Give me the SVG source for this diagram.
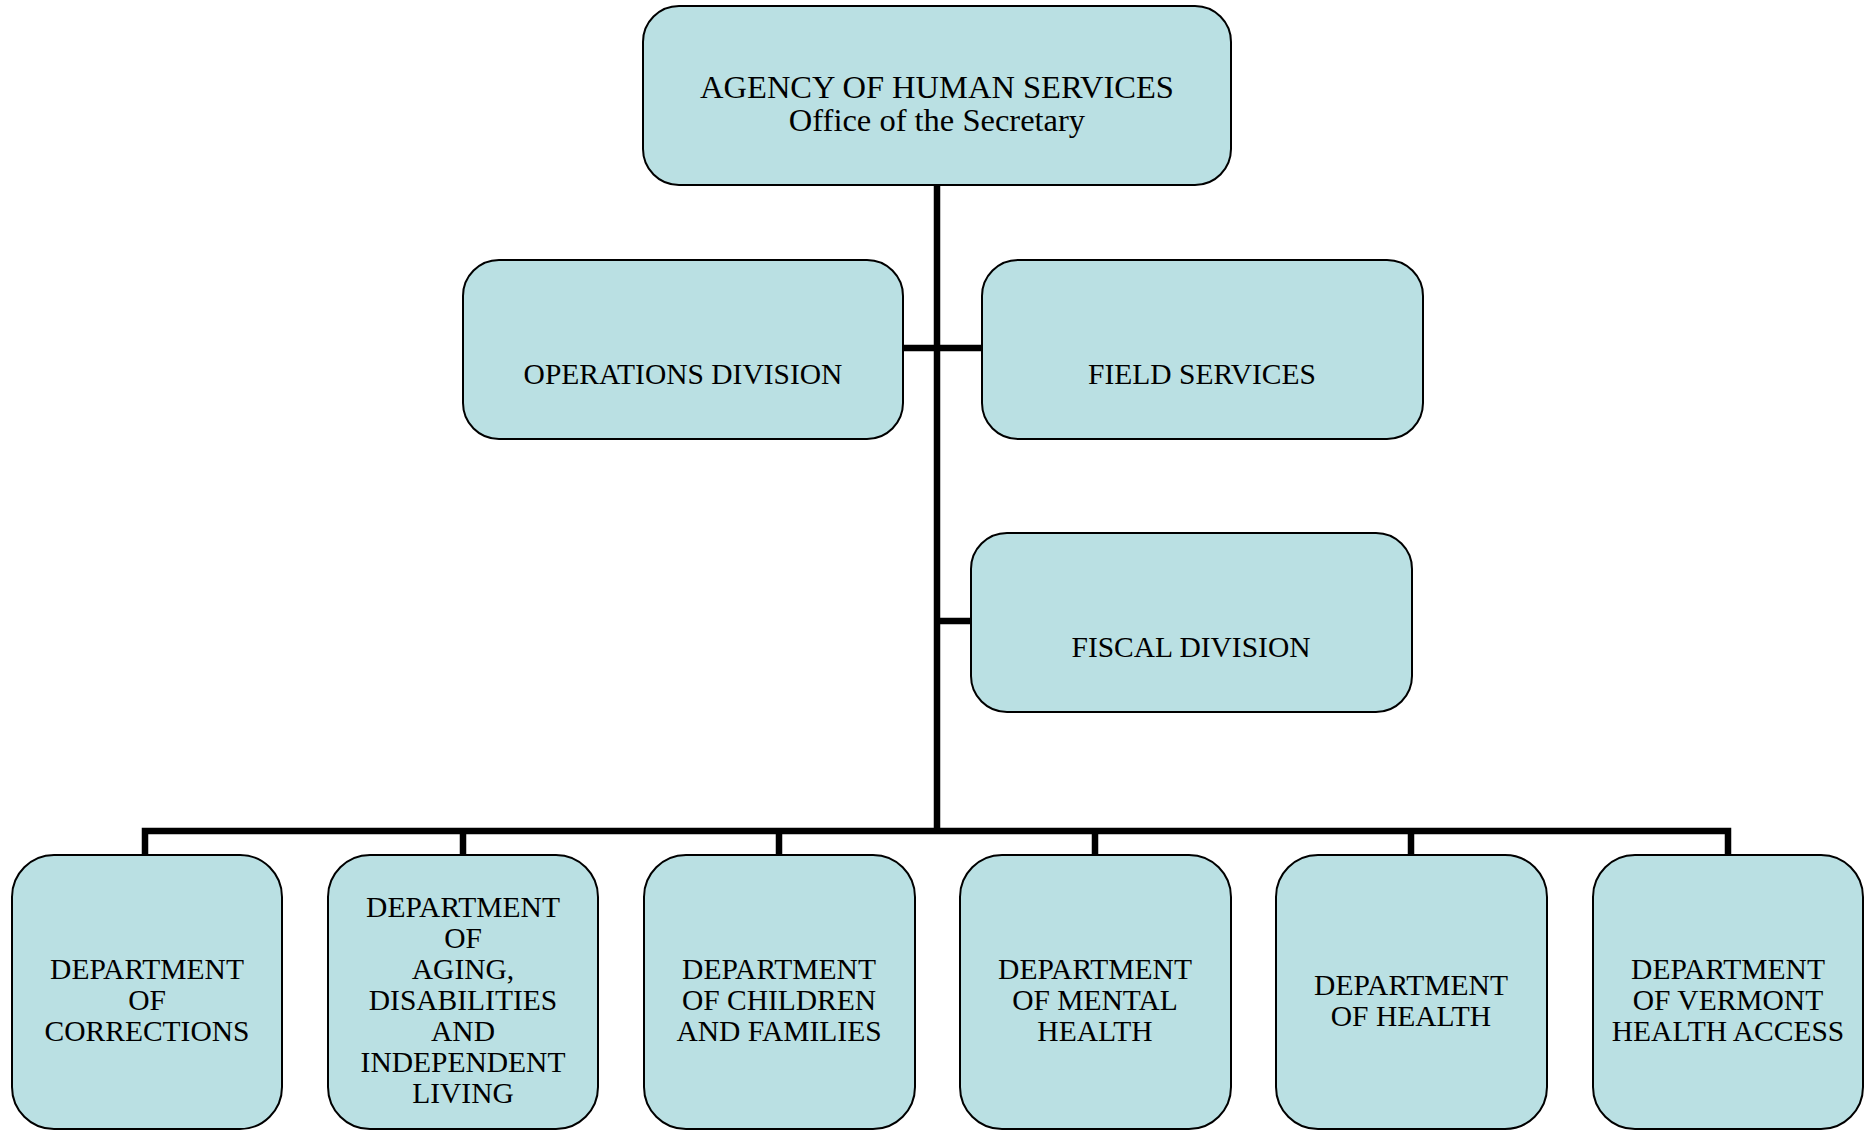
<svg xmlns="http://www.w3.org/2000/svg" width="1870" height="1131" viewBox="0 0 1870 1131">
<style>
.box{fill:#bae0e3;stroke:#000;stroke-width:2}
.t{font-family:"Liberation Serif","Times New Roman",serif;font-size:29.5px;fill:#000;text-anchor:middle}
.tt{font-family:"Liberation Serif","Times New Roman",serif;font-size:32.5px;fill:#000;text-anchor:middle}
.c{fill:none;stroke:#000;stroke-width:6.5;stroke-linecap:butt}
</style>
<rect width="1870" height="1131" fill="#fff"/>
<g id="connectors">
<path class="c" d="M937 185V834"/>
<path class="c" d="M903 348H982"/>
<path class="c" d="M937 621H971"/>
<path class="c" d="M145 856V831H1728V856"/>
<path class="c" d="M463 831V856M779 831V856M1095 831V856M1411 831V856"/>
</g>
<g id="agency">
<rect class="box" x="643" y="6" width="588" height="179" rx="36"/>
<text class="tt" x="937" y="98">AGENCY OF HUMAN SERVICES</text>
<text class="tt" x="937" y="131">Office of the Secretary</text>
</g>
<g id="operations">
<rect class="box" x="463" y="260" width="440" height="179" rx="36"/>
<text class="t" x="683" y="384">OPERATIONS DIVISION</text>
</g>
<g id="field">
<rect class="box" x="982" y="260" width="441" height="179" rx="36"/>
<text class="t" x="1202" y="384">FIELD SERVICES</text>
</g>
<g id="fiscal">
<rect class="box" x="971" y="533" width="441" height="179" rx="36"/>
<text class="t" x="1191" y="657">FISCAL DIVISION</text>
</g>
<g id="corrections">
<rect class="box" x="12" y="855" width="270" height="274" rx="42"/>
<text class="t" x="147" y="979">DEPARTMENT</text>
<text class="t" x="147" y="1010">OF</text>
<text class="t" x="147" y="1041">CORRECTIONS</text>
</g>
<g id="aging">
<rect class="box" x="328" y="855" width="270" height="274" rx="42"/>
<text class="t" x="463" y="917">DEPARTMENT</text>
<text class="t" x="463" y="948">OF</text>
<text class="t" x="463" y="979">AGING,</text>
<text class="t" x="463" y="1010">DISABILITIES</text>
<text class="t" x="463" y="1041">AND</text>
<text class="t" x="463" y="1072">INDEPENDENT</text>
<text class="t" x="463" y="1103">LIVING</text>
</g>
<g id="children">
<rect class="box" x="644" y="855" width="271" height="274" rx="42"/>
<text class="t" x="779" y="979">DEPARTMENT</text>
<text class="t" x="779" y="1010">OF CHILDREN</text>
<text class="t" x="779" y="1041">AND FAMILIES</text>
</g>
<g id="mental">
<rect class="box" x="960" y="855" width="271" height="274" rx="42"/>
<text class="t" x="1095" y="979">DEPARTMENT</text>
<text class="t" x="1095" y="1010">OF MENTAL</text>
<text class="t" x="1095" y="1041">HEALTH</text>
</g>
<g id="health">
<rect class="box" x="1276" y="855" width="271" height="274" rx="42"/>
<text class="t" x="1411" y="995">DEPARTMENT</text>
<text class="t" x="1411" y="1026">OF HEALTH</text>
</g>
<g id="vermont">
<rect class="box" x="1593" y="855" width="270" height="274" rx="42"/>
<text class="t" x="1728" y="979">DEPARTMENT</text>
<text class="t" x="1728" y="1010">OF VERMONT</text>
<text class="t" x="1728" y="1041">HEALTH ACCESS</text>
</g>
</svg>
